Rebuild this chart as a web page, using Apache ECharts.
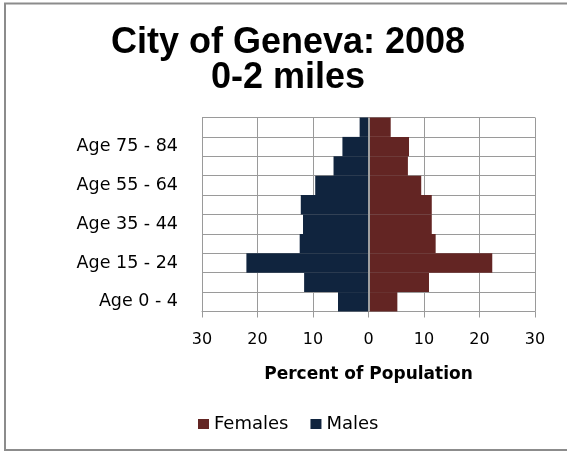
<!DOCTYPE html>
<html>
<head>
<meta charset="utf-8">
<title>City of Geneva: 2008 - 0-2 miles</title>
<script src="https://cdn.jsdelivr.net/npm/echarts@6/dist/echarts.min.js"></script>
<style>
  html, body { margin: 0; padding: 0; background: #ffffff; }
  #chart { width: 567px; height: 453px; }
</style>
</head>
<body>
<div id="chart"></div>
<script>
// Age groups, youngest at the bottom of the pyramid
const categories = [
  'Age 0 - 4', 'Age 5 - 14', 'Age 15 - 24', 'Age 25 - 34', 'Age 35 - 44',
  'Age 45 - 54', 'Age 55 - 64', 'Age 65 - 74', 'Age 75 - 84', 'Age 85 +'
];
// Percent of population in each age group
const males   = [5.5, 11.6, 22.0, 12.4, 11.8, 12.2, 9.6, 6.3, 4.7, 1.6];
const females = [5.2, 10.9, 22.3, 12.1, 11.4, 11.4, 9.5, 7.1, 7.3, 4.0];
// Value axis extent and step (same scale on both sides of zero)
const axisMin = -30;
const axisMax = 30;
const axisStep = 10;

const labelFont = 'DejaVu Sans';
const gridColor = '#9a9a9a';

const chart = echarts.init(document.getElementById('chart'), null, { renderer: 'canvas' });

chart.setOption({
  animation: false,
  backgroundColor: '#ffffff',
  title: {
    text: 'City of Geneva: 2008\n0-2 miles',
    left: 288,
    top: 26,
    textAlign: 'center',
    padding: 0,
    textStyle: {
      fontFamily: 'Liberation Sans',
      fontWeight: 'bold',
      fontSize: 36,
      lineHeight: 35,
      color: '#000000'
    }
  },
  graphic: [{
    type: 'rect',
    silent: true,
    shape: { x: 5, y: 3.5, width: 640, height: 446.5 },
    style: { fill: 'none', stroke: '#8c8c8c', lineWidth: 2 }
  }],
  legend: {
    data: ['Females', 'Males'],
    left: 198,
    top: 415,
    padding: 0,
    icon: 'rect',
    itemWidth: 11,
    itemHeight: 10,
    itemGap: 22,
    textStyle: { fontFamily: labelFont, fontSize: 18, color: '#000000' }
  },
  grid: {
    left: 202,
    right: 32,
    top: 117.5,
    bottom: 141.5,
    containLabel: false
  },
  xAxis: {
    type: 'value',
    min: axisMin,
    max: axisMax,
    interval: axisStep,
    name: 'Percent of Population',
    nameLocation: 'middle',
    nameGap: 55,
    nameTextStyle: {
      fontFamily: labelFont,
      fontWeight: 'bold',
      fontSize: 17,
      color: '#000000'
    },
    axisLine: { show: true, onZero: false, lineStyle: { color: gridColor, width: 1 } },
    axisTick: { show: true, length: 6, lineStyle: { color: gridColor, width: 1 } },
    splitLine: { show: true, lineStyle: { color: gridColor, width: 1 } },
    axisLabel: {
      margin: 20,
      fontFamily: labelFont,
      fontSize: 16,
      color: '#000000',
      formatter: (v) => String(Math.abs(v))
    }
  },
  yAxis: {
    type: 'category',
    data: categories,
    boundaryGap: true,
    axisLine: { show: false },
    axisTick: { show: false },
    splitLine: { show: true, interval: 0, lineStyle: { color: gridColor, width: 1 } },
    axisLabel: {
      interval: 1,
      margin: 24,
      fontFamily: labelFont,
      fontSize: 17.5,
      color: '#000000'
    }
  },
  series: [
    {
      name: 'Males',
      type: 'bar',
      data: males.map(v => -v),
      barCategoryGap: '0%',
      barGap: '-100%',
      itemStyle: { color: '#10243e' }
    },
    {
      name: 'Females',
      type: 'bar',
      data: females,
      barCategoryGap: '0%',
      barGap: '-100%',
      itemStyle: { color: '#632523' },
      markLine: {
        silent: true,
        symbol: 'none',
        label: { show: false },
        lineStyle: { color: '#a0a0a0', width: 2, type: 'solid' },
        data: [{ xAxis: 0 }]
      }
    }
  ]
});
</script>
</body>
</html>
